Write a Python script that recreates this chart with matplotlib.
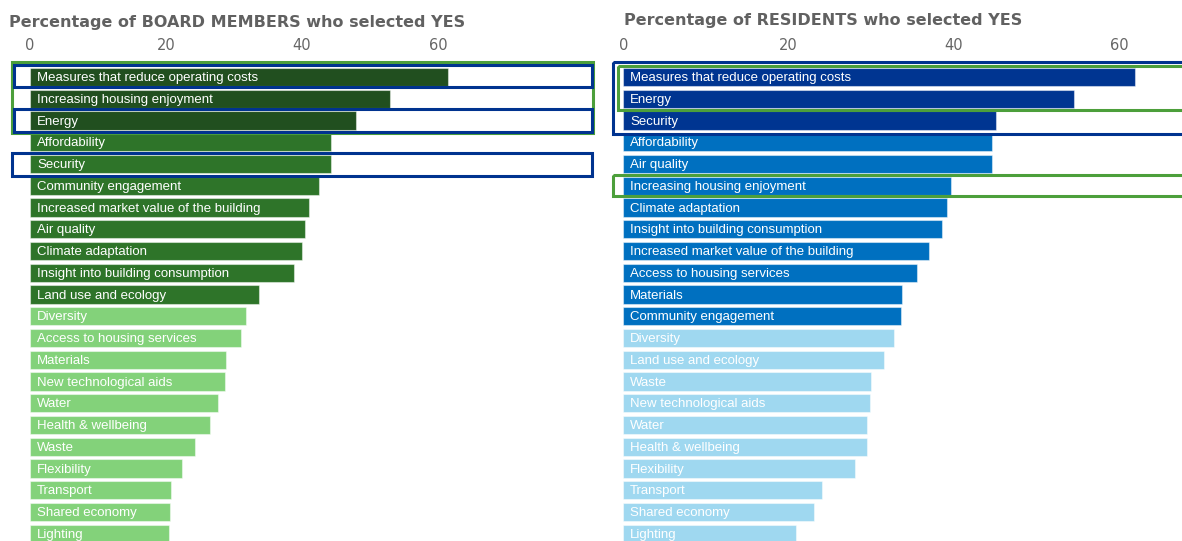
import matplotlib
matplotlib.use("Agg")
import matplotlib.pyplot as plt
import matplotlib.transforms as mtransforms
from matplotlib.patches import Rectangle

# board members
board_labels = ['Measures that reduce operating costs', 'Increasing housing enjoyment', 'Energy',
                'Affordability', 'Security', 'Community engagement',
                'Increased market value of the building', 'Air quality', 'Climate adaptation',
                'Insight into building consumption', 'Land use and ecology', 'Diversity',
                'Access to housing services', 'Materials', 'New technological aids', 'Water',
                'Health & wellbeing', 'Waste', 'Flexibility', 'Transport', 'Shared economy',
                'Lighting']
board_values = [61.5, 53.0, 47.9, 44.3, 44.3, 42.5, 41.0, 40.4, 40.0, 38.8, 33.7, 31.8,
                31.0, 28.8, 28.7, 27.6, 26.5, 24.3, 22.3, 20.7, 20.6, 20.5]
board_group = [0, 0, 0, 1, 1, 1, 1, 1, 1, 1, 1, 2, 2, 2, 2, 2, 2, 2, 2, 2, 2, 2]

# residents
res_labels = ['Measures that reduce operating costs', 'Energy', 'Security', 'Affordability',
              'Air quality', 'Increasing housing enjoyment', 'Climate adaptation',
              'Insight into building consumption', 'Increased market value of the building',
              'Access to housing services', 'Materials', 'Community engagement', 'Diversity',
              'Land use and ecology', 'Waste', 'New technological aids', 'Water',
              'Health & wellbeing', 'Flexibility', 'Transport', 'Shared economy', 'Lighting']
res_values = [61.9, 54.6, 45.1, 44.6, 44.6, 39.7, 39.2, 38.6, 37.0, 35.5, 33.7, 33.6, 32.8,
              31.6, 30.0, 29.9, 29.5, 29.5, 28.0, 24.0, 23.1, 20.9]
res_group = [0, 0, 0, 1, 1, 1, 1, 1, 1, 1, 1, 1, 2, 2, 2, 2, 2, 2, 2, 2, 2, 2]

greens = ['#214f1f', '#2e7429', '#83d27a']
blues = ['#003591', '#0070c0', '#9fd8f0']
green_line = '#4c9f3b'
blue_line = '#00338f'

W, H = 1182, 541
fig = plt.figure(figsize=(W / 100, H / 100), dpi=100)

row0 = 77.0      # px centre of first row
pitch = 21.75    # px per row
top_px = 56.0
ylim = ((H - row0) / pitch, (top_px - row0) / pitch)


def panel(left_px, right_px, xmax, labels, values, groups, colors, title, title_x, title_y):
    ax = fig.add_axes([left_px / W, 0, (right_px - left_px) / W, (H - top_px) / H])
    ys = list(range(len(labels)))
    cols = [colors[g] for g in groups]
    ax.barh(ys, values, height=0.85, color=cols, edgecolor=(1, 1, 1, 0.45), linewidth=0.8)
    for y, lab in zip(ys, labels):
        ax.annotate(lab, (0, y), xytext=(5, -0.8), textcoords='offset points',
                    va='center', ha='left', color='white', fontsize=9.5,
                    family='Liberation Sans')
    ax.set_xlim(0, xmax)
    ax.set_ylim(*ylim)
    ax.xaxis.tick_top()
    ax.set_xticks([0, 20, 40, 60])
    ax.tick_params(axis='x', length=0, pad=2, labelsize=10.5, labelcolor='#666666')
    ax.set_yticks([])
    for s in ax.spines.values():
        s.set_visible(False)
    fig.text(title_x / W, 1 - title_y / H, title, fontsize=11.5, fontweight='bold',
             color='#616161', va='center', ha='left')
    return ax


def box(ax, x0, y0, y1, color, x1=1.0):
    tr = mtransforms.blended_transform_factory(ax.transAxes, ax.transData)
    ax.add_patch(Rectangle((x0, y0), x1 - x0, y1 - y0, transform=tr, fill=False,
                           edgecolor=color, linewidth=2.2, clip_on=False, zorder=5))


ax1 = panel(30, 593, (593 - 30) / 6.8, board_labels, board_values, board_group, greens,
            'Percentage of BOARD MEMBERS who selected YES', 9, 23)
box(ax1, -0.032, -0.69, 2.57, green_line)
box(ax1, -0.028, -0.55, 0.46, blue_line, 0.998)
box(ax1, -0.028, 1.47, 2.53, blue_line, 0.998)
box(ax1, -0.032, 3.48, 4.55, blue_line, 0.998)

ax2 = panel(623.3, 1182, (1182 - 623.3) / 8.26, res_labels, res_values, res_group, blues,
            'Percentage of RESIDENTS who selected YES', 624, 20)
box(ax2, -0.019, -0.69, 2.62, blue_line, 1.01)
box(ax2, -0.010, -0.52, 1.52, green_line, 1.01)
box(ax2, -0.019, 4.5, 5.47, green_line, 1.01)

fig.savefig('out.png', dpi=100)
